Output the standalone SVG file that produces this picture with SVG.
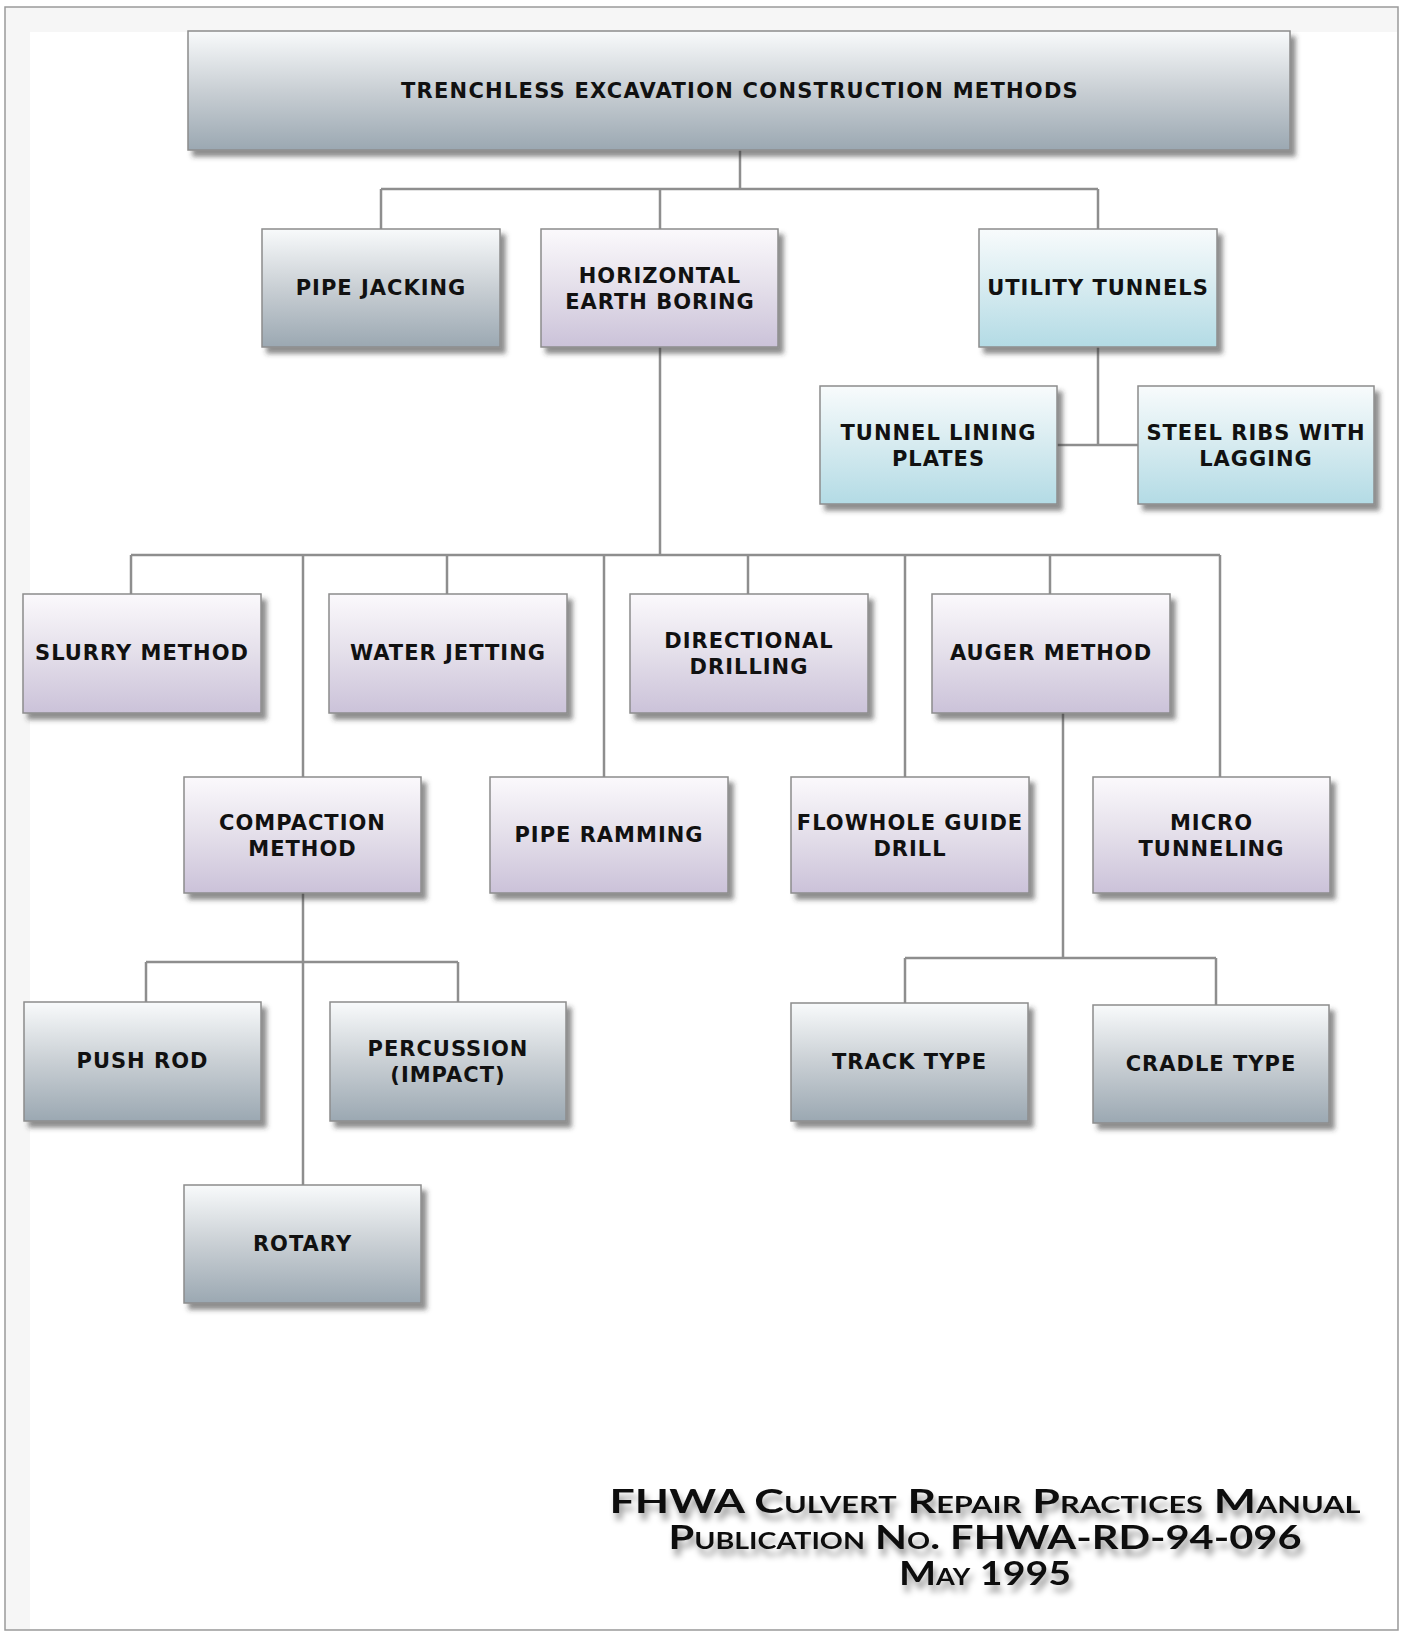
<svg xmlns="http://www.w3.org/2000/svg" width="1403" height="1631" viewBox="0 0 1403 1631">
<defs>
<linearGradient id="gGray" x1="0" y1="0" x2="0" y2="1">
<stop offset="0" stop-color="#f8fafb"/><stop offset="0.5" stop-color="#c9cfd4"/><stop offset="1" stop-color="#9ba8b2"/>
</linearGradient>
<linearGradient id="gLav" x1="0" y1="0" x2="0" y2="1">
<stop offset="0" stop-color="#fbf9fc"/><stop offset="0.5" stop-color="#e4dfea"/><stop offset="1" stop-color="#cbc2d9"/>
</linearGradient>
<linearGradient id="gBlue" x1="0" y1="0" x2="0" y2="1">
<stop offset="0" stop-color="#f8fbfc"/><stop offset="0.5" stop-color="#d6ebf0"/><stop offset="1" stop-color="#b3dbe5"/>
</linearGradient>
<filter id="sh" x="-5%" y="-5%" width="115%" height="125%">
<feDropShadow dx="5" dy="6" stdDeviation="2.5" flood-color="#333" flood-opacity="0.55"/>
</filter>
<filter id="ts" x="-10%" y="-60%" width="120%" height="220%">
<feGaussianBlur in="SourceAlpha" stdDeviation="3"/>
<feOffset dx="3" dy="7" result="b"/>
<feFlood flood-color="#000" flood-opacity="0.4"/>
<feComposite in2="b" operator="in"/>
<feMerge><feMergeNode/><feMergeNode in="SourceGraphic"/></feMerge>
</filter>
</defs>
<style>
.box{stroke:#8c8c8c;stroke-width:1.5;filter:url(#sh)}
.gray{fill:url(#gGray)}
.lav{fill:url(#gLav)}
.blue{fill:url(#gBlue)}
.lbl{font-family:"DejaVu Sans",Verdana,sans-serif;font-weight:bold;font-size:21px;letter-spacing:1px;fill:#111;text-anchor:middle}
.con{stroke:#8e8e8e;stroke-width:2.5;fill:none}
.foot{font-family:Lato,"Open Sans",sans-serif;font-weight:bold;font-size:32px;font-variant:small-caps;fill:#111;text-anchor:middle;filter:url(#ts)}
</style>
<rect x="5" y="7" width="1393" height="1623" fill="#f6f6f6" stroke="#9a9a9a" stroke-width="1.5"/>
<rect x="30" y="32" width="1367" height="1597" fill="#ffffff"/>

<g id="connectors">
<path class="con" d="M740 150V189M381 189H1098M381 189V229M660 189V229M1098 189V229"/>
<path class="con" d="M1098 347V445M1057 445H1138"/>
<path class="con" d="M660 347V555M131 555H1220M131 555V594M303 555V777M447 555V594M604 555V777M748 555V594M905 555V777M1050 555V594M1220 555V777"/>
<path class="con" d="M1063 713V958M905 958H1216M905 958V1003M1216 958V1005"/>
<path class="con" d="M303 893V1185M146 962H458M146 962V1002M458 962V1002"/>
</g>

<g id="n-top"><rect class="box gray" x="188" y="31" width="1102" height="119"/><text class="lbl" x="740" y="98" style="letter-spacing:1.25px">TRENCHLESS EXCAVATION CONSTRUCTION METHODS</text></g>
<g id="n-pipejacking"><rect class="box gray" x="262" y="229" width="238" height="118"/><text class="lbl" x="381" y="295">PIPE JACKING</text></g>
<g id="n-heb"><rect class="box lav" x="541" y="229" width="237" height="118"/><text class="lbl" x="660" y="283">HORIZONTAL</text><text class="lbl" x="660" y="309">EARTH BORING</text></g>
<g id="n-utility"><rect class="box blue" x="979" y="229" width="238" height="118"/><text class="lbl" x="1098" y="295">UTILITY TUNNELS</text></g>
<g id="n-tlp"><rect class="box blue" x="820" y="386" width="237" height="118"/><text class="lbl" x="938.5" y="440">TUNNEL LINING</text><text class="lbl" x="938.5" y="466">PLATES</text></g>
<g id="n-srwl"><rect class="box blue" x="1138" y="386" width="236" height="118"/><text class="lbl" x="1256" y="440">STEEL RIBS WITH</text><text class="lbl" x="1256" y="466">LAGGING</text></g>

<g id="n-slurry"><rect class="box lav" x="23" y="594" width="238" height="119"/><text class="lbl" x="142" y="660">SLURRY METHOD</text></g>
<g id="n-water"><rect class="box lav" x="329" y="594" width="238" height="119"/><text class="lbl" x="448" y="660">WATER JETTING</text></g>
<g id="n-directional"><rect class="box lav" x="630" y="594" width="238" height="119"/><text class="lbl" x="749" y="648">DIRECTIONAL</text><text class="lbl" x="749" y="674">DRILLING</text></g>
<g id="n-auger"><rect class="box lav" x="932" y="594" width="238" height="119"/><text class="lbl" x="1051" y="660">AUGER METHOD</text></g>

<g id="n-compaction"><rect class="box lav" x="184" y="777" width="237" height="116"/><text class="lbl" x="302.5" y="830">COMPACTION</text><text class="lbl" x="302.5" y="856">METHOD</text></g>
<g id="n-ramming"><rect class="box lav" x="490" y="777" width="238" height="116"/><text class="lbl" x="609" y="842">PIPE RAMMING</text></g>
<g id="n-flowhole"><rect class="box lav" x="791" y="777" width="238" height="116"/><text class="lbl" x="910" y="830">FLOWHOLE GUIDE</text><text class="lbl" x="910" y="856">DRILL</text></g>
<g id="n-micro"><rect class="box lav" x="1093" y="777" width="237" height="116"/><text class="lbl" x="1211.5" y="830">MICRO</text><text class="lbl" x="1211.5" y="856">TUNNELING</text></g>

<g id="n-pushrod"><rect class="box gray" x="24" y="1002" width="237" height="119"/><text class="lbl" x="142.5" y="1068">PUSH ROD</text></g>
<g id="n-percussion"><rect class="box gray" x="330" y="1002" width="236" height="119"/><text class="lbl" x="448" y="1056">PERCUSSION</text><text class="lbl" x="448" y="1082">(IMPACT)</text></g>
<g id="n-track"><rect class="box gray" x="791" y="1003" width="237" height="118"/><text class="lbl" x="909.5" y="1069">TRACK TYPE</text></g>
<g id="n-cradle"><rect class="box gray" x="1093" y="1005" width="236" height="118"/><text class="lbl" x="1211" y="1071">CRADLE TYPE</text></g>
<g id="n-rotary"><rect class="box gray" x="184" y="1185" width="237" height="118"/><text class="lbl" x="302.5" y="1251">ROTARY</text></g>

<g id="footer">
<text class="foot" x="985" y="1513" textLength="751" lengthAdjust="spacingAndGlyphs">FHWA Culvert Repair Practices Manual</text>
<text class="foot" x="985" y="1549" textLength="633" lengthAdjust="spacingAndGlyphs">Publication No. FHWA-RD-94-096</text>
<text class="foot" x="985" y="1585" textLength="172" lengthAdjust="spacingAndGlyphs">May 1995</text>
</g>
</svg>
